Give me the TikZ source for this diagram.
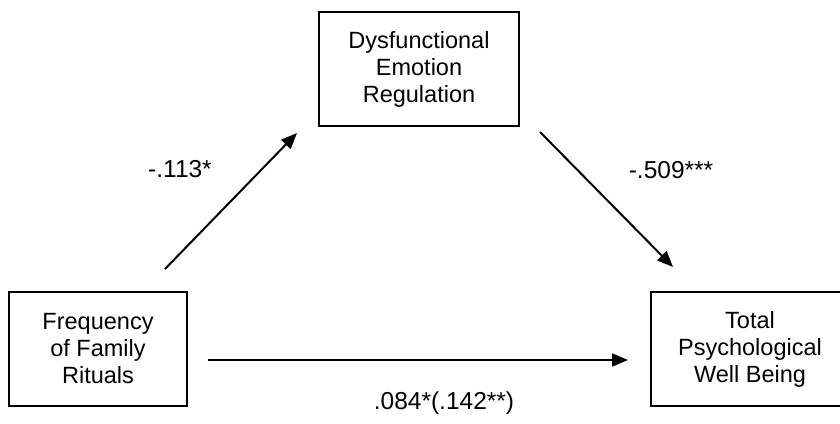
\documentclass[tikz,border=0pt]{standalone}
\usepackage{fontspec}
\setmainfont{Liberation Sans}
\usetikzlibrary{arrows.meta}
\begin{document}
\begin{tikzpicture}[x=1pt,y=-1pt,
  box/.style={draw,line width=1.8pt,minimum width=#1,minimum height=114pt,
    inner sep=0pt,align=center,font=\fontsize{23.5}{27}\selectfont},
  link/.style={line width=2pt,-{Triangle[length=16pt,width=13pt]}},
  coef/.style={inner sep=0pt,font=\fontsize{24.5}{28}\selectfont}]
\useasboundingbox (0,0) rectangle (840,423);
\clip (0,0) rectangle (840,423);

% variables
\node[box=200pt] (der)  at (419,69)  {Dysfunctional\\Emotion\\Regulation};
\node[box=178pt] (freq) at (98,349)  {Frequency\\of Family\\Rituals};
\node[box=198pt] (wb)   at (750,349) {Total\\Psychological\\Well Being};

% path end points
\coordinate (aS) at (165,269);
\coordinate (aE) at (297,133);
\coordinate (bS) at (540,132);
\coordinate (bE) at (673,267);
\coordinate (cS) at (208,360);
\coordinate (cE) at (628,360);

% paths
\draw[link] (aS) -- (aE);
\draw[link] (bS) -- (bE);
\draw[link] (cS) -- (cE);

% coefficients
\node[coef] (ca) at (180,169) {-.113*};
\node[coef] (cb) at (671,170) {-.509***};
\node[coef] (cc) at (444,403) {.084*(.142**)};
\end{tikzpicture}
\end{document}
